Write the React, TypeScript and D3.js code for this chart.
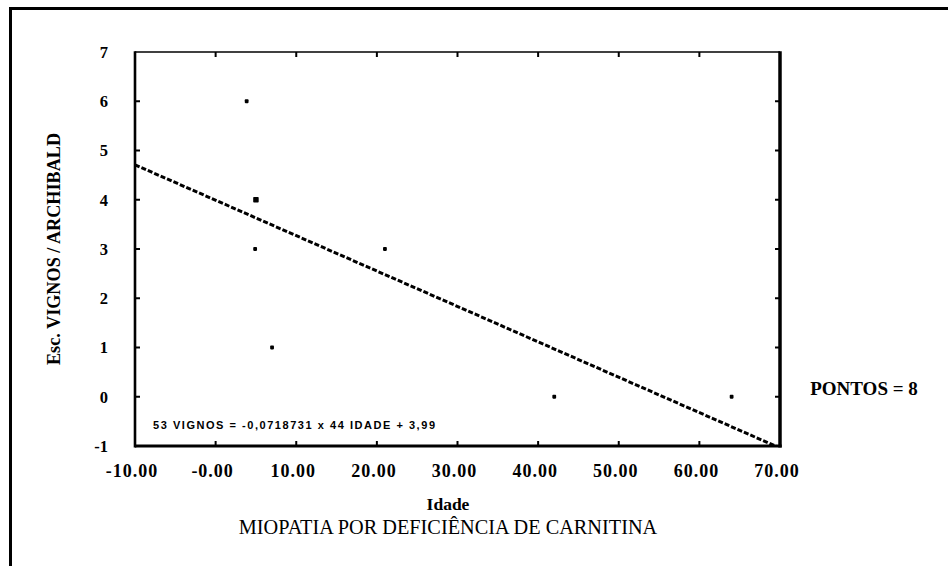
import React from "react";
import * as d3 from "d3";

// ---- data ----
const ages = [3.85, 5.0, 5.0, 4.9, 21.0, 7.0, 42.0, 64.0];
const scores = [6.0, 4.0, 4.0, 3.0, 3.0, 1.0, 0.0, 0.0];
const xTicks = [-10, 0, 10, 20, 30, 40, 50, 60, 70];
const xTickLabels = ["-10.00", "-0.00", "10.00", "20.00", "30.00", "40.00", "50.00", "60.00", "70.00"];
const yTicks = [-1, 0, 1, 2, 3, 4, 5, 6, 7];
const yTickLabels = ["-1", "0", "1", "2", "3", "4", "5", "6", "7"];
const slope = -0.0718731;
const intercept = 3.99;
const equationText = "53 VIGNOS = -0,0718731 x 44 IDADE + 3,99";
const pointsLabel = "PONTOS = 8";
const xTitle = "Idade";
const subTitle = "MIOPATIA POR DEFICIÊNCIA DE CARNITINA";
const yTitle = "Esc. VIGNOS / ARCHIBALD";

const W = 948;
const H = 566;
const plot = { left: 135, right: 780, top: 52, bottom: 446 };
const serif = "'Liberation Serif', 'Times New Roman', serif";
const sans = "'Liberation Sans', Arial, sans-serif";

export default function App() {
  const x = d3.scaleLinear().domain([-10, 70]).range([plot.left, plot.right]);
  const y = d3.scaleLinear().domain([-1, 7]).range([plot.bottom, plot.top]);

  const pts = ages.map((a, i) => ({ a, s: scores[i] }));
  const counts = d3.rollup(pts, (v) => v.length, (d) => `${d.a}|${d.s}`);
  const uniq = Array.from(counts, ([k, n]) => {
    const [a, s] = k.split("|").map(Number);
    return { a, s, n };
  });

  const line = d3
    .line<number>()
    .x((d) => x(d))
    .y((d) => y(slope * d + intercept));
  const lineX = x.domain();

  const innerX = xTicks.slice(1, -1);
  const innerY = yTicks.slice(1, -1);
  const tk = 5;

  return (
    <svg
      width={W}
      height={H}
      style={{ position: "absolute", left: 0, top: 0, background: "#fff" }}
    >
      <rect x={0} y={0} width={W} height={H} fill="#fff" />
      {/* outer frame */}
      <line x1={10} y1={8.5} x2={W} y2={8.5} stroke="#000" strokeWidth={3} />
      <line x1={10.5} y1={7} x2={10.5} y2={H} stroke="#000" strokeWidth={3} />

      <defs>
        <clipPath id="pc">
          <rect x={plot.left} y={plot.top} width={plot.right - plot.left} height={plot.bottom - plot.top} />
        </clipPath>
      </defs>

      {/* regression line */}
      <path
        d={line(lineX) || ""}
        fill="none"
        stroke="#000"
        strokeWidth={3}
        strokeDasharray="5 2"
        clipPath="url(#pc)"
      />

      {/* points */}
      {uniq.map((p, i) => {
        const s = p.n > 1 ? 5.5 : 3.8;
        return (
          <rect key={i} x={x(p.a) - s / 2} y={y(p.s) - s / 2} width={s} height={s} rx={0.8} fill="#000" />
        );
      })}

      {/* plot box */}
      <line x1={plot.left} y1={plot.top} x2={plot.right} y2={plot.top} stroke="#000" strokeWidth={1.6} />
      <line x1={plot.left} y1={plot.top - 0.8} x2={plot.left} y2={plot.bottom + 1.5} stroke="#000" strokeWidth={2.6} />
      <line x1={plot.right} y1={plot.top - 0.8} x2={plot.right} y2={plot.bottom + 1.5} stroke="#000" strokeWidth={3.5} />
      <line x1={plot.left} y1={plot.bottom} x2={plot.right + 1.7} y2={plot.bottom} stroke="#000" strokeWidth={3} />

      {/* ticks */}
      {innerY.map((v) => (
        <g key={"yt" + v}>
          <line x1={plot.left} x2={plot.left + tk} y1={y(v)} y2={y(v)} stroke="#000" strokeWidth={2} />
          <line x1={plot.right} x2={plot.right - tk} y1={y(v)} y2={y(v)} stroke="#000" strokeWidth={2} />
        </g>
      ))}
      {innerX.map((v) => (
        <g key={"xt" + v}>
          <line x1={x(v)} x2={x(v)} y1={plot.bottom} y2={plot.bottom - tk} stroke="#000" strokeWidth={2} />
          <line x1={x(v)} x2={x(v)} y1={plot.top} y2={plot.top + tk} stroke="#000" strokeWidth={2} />
        </g>
      ))}

      {/* y tick labels */}
      {yTicks.map((v, i) => (
        <text
          key={"yl" + v}
          x={108}
          y={y(v)}
          dy="0.36em"
          textAnchor="end"
          fontFamily={serif}
          fontWeight="bold"
          fontSize={16.5}
        >
          {yTickLabels[i]}
        </text>
      ))}

      {/* x tick labels */}
      {xTicks.map((v, i) => (
        <text
          key={"xl" + v}
          x={x(v) - 3}
          y={477}
          textAnchor="middle"
          fontFamily={serif}
          fontWeight="bold"
          fontSize={18}
          letterSpacing={1}
        >
          {xTickLabels[i]}
        </text>
      ))}

      {/* equation */}
      <text
        x={153}
        y={429}
        fontFamily={sans}
        fontWeight="bold"
        fontSize={11}
        textLength={282}
        lengthAdjust="spacing"
      >
        {equationText}
      </text>

      {/* titles */}
      <text
        transform={`translate(60, ${(plot.top + plot.bottom) / 2}) rotate(-90)`}
        textAnchor="middle"
        fontFamily={serif}
        fontWeight="bold"
        fontSize={18.2}
      >
        {yTitle}
      </text>
      <text x={448} y={510} textAnchor="middle" fontFamily={serif} fontWeight="bold" fontSize={17.5}>
        {xTitle}
      </text>
      <text x={448} y={534} textAnchor="middle" fontFamily={serif} fontSize={20.3}>
        {subTitle}
      </text>
      <text x={864} y={395} textAnchor="middle" fontFamily={serif} fontWeight="bold" fontSize={19}>
        {pointsLabel}
      </text>
    </svg>
  );
}
